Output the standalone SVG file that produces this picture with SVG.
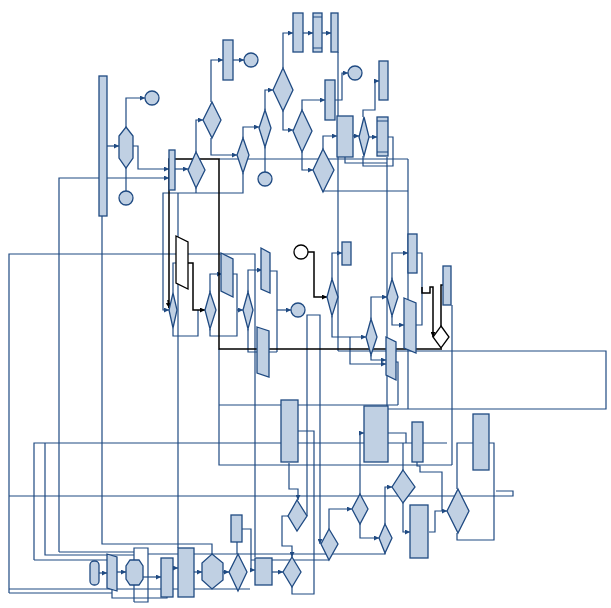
<svg xmlns="http://www.w3.org/2000/svg" width="611" height="608" viewBox="0 0 611 608">
<defs>
<style>
.n{fill:#C0D0E3;stroke:#1F4A82;stroke-width:1.3}
.w{fill:#fff;stroke:#000;stroke-width:1.3}
.c{fill:none;stroke:#1F4A82;stroke-width:1.2}
.k{fill:none;stroke:#000;stroke-width:1.5}
.b{fill:none;stroke:#1F4A82;stroke-width:1}
</style>
<marker id="a" markerWidth="5" markerHeight="5" refX="5" refY="2.5" orient="auto" markerUnits="userSpaceOnUse"><path d="M0,0 L5,2.5 L0,5 z" fill="#1F4A82"/></marker>
<marker id="ak" markerWidth="5" markerHeight="5" refX="5" refY="2.5" orient="auto" markerUnits="userSpaceOnUse"><path d="M0,0 L5,2.5 L0,5 z" fill="#000"/></marker>
</defs>
<rect width="611" height="608" fill="#fff"/>
<g id="connectors">
<!-- top left -->
<polyline class="c" points="107,146 119,146" marker-end="url(#a)"/>
<polyline class="c" points="126,127 126,98 145,98" marker-end="url(#a)"/>
<polyline class="c" points="133,146 138,146 138,169 169,169" marker-end="url(#a)"/>
<polyline class="c" points="126,168 126,191"/>
<polyline class="c" points="59,552 59,178 169,178" marker-end="url(#a)"/>
<polyline class="c" points="175,169 188,169" marker-end="url(#a)"/>
<polyline class="c" points="196,152 196,120 203,120" marker-end="url(#a)"/>
<polyline class="c" points="211,102 211,60 223,60" marker-end="url(#a)"/>
<polyline class="c" points="233,60 244,60" marker-end="url(#a)"/>
<polyline class="c" points="211,138 211,155 237,155" marker-end="url(#a)"/>
<polyline class="c" points="243,138 243,127 259,127" marker-end="url(#a)"/>
<polyline class="c" points="265,110 265,90 273,90" marker-end="url(#a)"/>
<polyline class="c" points="283,68 283,33 293,33" marker-end="url(#a)"/>
<polyline class="c" points="303,33 313,33" marker-end="url(#a)"/>
<polyline class="c" points="322,33 331,33" marker-end="url(#a)"/>
<polyline class="c" points="283,111 283,130 293,130" marker-end="url(#a)"/>
<polyline class="c" points="302,110 302,100 325,100" marker-end="url(#a)"/>
<polyline class="c" points="302,152 302,170 313,170" marker-end="url(#a)"/>
<polyline class="c" points="323,149 323,136 337,136" marker-end="url(#a)"/>
<polyline class="c" points="335,100 342,100 342,73 348,73" marker-end="url(#a)"/>
<polyline class="c" points="265,147 265,172"/>
<polyline class="c" points="363,117 363,110 375,110 375,81 379,81" marker-end="url(#a)"/>
<polyline class="c" points="353,136 359,136" marker-end="url(#a)"/>
<polyline class="c" points="369,137 377,137" marker-end="url(#a)"/>
<polyline class="c" points="345,157 345,163 387,163"/>
<polyline class="c" points="363,156 363,166 393,166 393,137 388,137"/>
<polyline class="c" points="323,192 323,191 408,191"/>
<polyline class="c" points="219,159 408,159"/>
<polyline class="c" points="338,52 338,351"/>
<polyline class="c" points="387,157 387,409"/>
<polyline class="c" points="408,159 408,409"/>
<polyline class="c" points="338,351 606,351 606,409 387,409"/>
<polyline class="c" points="243,173 243,193 163,193 163,310 169,310" marker-end="url(#a)"/>
<polyline class="c" points="196,188 196,193"/>
<polyline class="c" points="178,193 178,548"/>
<polyline class="c" points="102,216 102,544 212,544 212,554"/>
<!-- middle -->
<polyline class="c" points="9,593 9,254 255,254 255,557"/>
<polyline class="c" points="176,263 173,263 173,293"/>
<polyline class="c" points="173,328 173,336 198,336 198,310"/>
<polyline class="c" points="210,292 210,274 222,274" marker-end="url(#a)"/>
<polyline class="c" points="210,329 210,336 237,336 237,274 232,274"/>
<polyline class="c" points="237,310 243,310" marker-end="url(#a)"/>
<polyline class="c" points="248,292 248,270 262,270" marker-end="url(#a)"/>
<polyline class="c" points="248,329 248,352 277,352"/>
<polyline class="c" points="270,271 277,271 277,352"/>
<polyline class="c" points="277,310 291,310" marker-end="url(#a)"/>
<polyline class="c" points="307,516 307,315 320,315 320,544" marker-end="url(#a)"/>
<polyline class="c" points="332,279 332,253 342,253" marker-end="url(#a)"/>
<polyline class="c" points="332,316 332,337 366,337" marker-end="url(#a)"/>
<polyline class="c" points="350,337 350,364 386,364" marker-end="url(#a)"/>
<polyline class="c" points="371,319 371,297 387,297" marker-end="url(#a)"/>
<polyline class="c" points="392,279 392,253 408,253" marker-end="url(#a)"/>
<polyline class="c" points="392,316 392,325 404,325" marker-end="url(#a)"/>
<polyline class="c" points="371,355 371,360 386,360" marker-end="url(#a)"/>
<polyline class="c" points="417,253 422,253 422,325 416,325"/>
<polyline class="c" points="396,362 398,362 398,405"/>
<polyline class="c" points="452,305 452,465"/>
<polyline class="c" points="219,349 219,465 452,465"/>
<polyline class="c" points="219,405 398,405"/>
<polyline class="c" points="34,560 34,443 447,443"/>
<polyline class="c" points="34,560 107,560"/>
<polyline class="c" points="45,443 45,555 134,555"/>
<polyline class="c" points="59,552 134,552"/>
<polyline class="c" points="9,496 496,496"/>
<!-- bottom middle -->
<polyline class="c" points="289,463 289,489 298,489 298,500" marker-end="url(#a)"/>
<polyline class="c" points="298,431 314,431 314,594 292,594 292,587"/>
<polyline class="c" points="288,516 282,516 282,546 292,546 292,557" marker-end="url(#a)"/>
<polyline class="c" points="272,572 283,572" marker-end="url(#a)"/>
<polyline class="c" points="329,529 329,509 352,509" marker-end="url(#a)"/>
<polyline class="c" points="360,524 360,538 379,538" marker-end="url(#a)"/>
<polyline class="c" points="385,524 385,487 392,487" marker-end="url(#a)"/>
<polyline class="c" points="403,503 403,532 410,532" marker-end="url(#a)"/>
<polyline class="c" points="429,532 435,532 435,511 447,511" marker-end="url(#a)"/>
<polyline class="c" points="457,489 457,443 494,443 494,540 457,540 457,533"/>
<polyline class="c" points="496,491 513,491 513,496 496,496"/>
<polyline class="c" points="360,494 360,433 364,433" marker-end="url(#a)"/>
<polyline class="c" points="388,433 406,433 406,443"/>
<polyline class="c" points="403,470 403,443"/>
<polyline class="c" points="417,462 417,466 420,466 420,472 442,472 442,511"/>
<polyline class="c" points="385,553 385,554 148,554"/>
<polyline class="c" points="329,560 251,560"/>
<polyline class="c" points="242,529 251,529 251,570 255,570" marker-end="url(#a)"/>
<!-- bottom left row -->
<polyline class="c" points="99,573 107,573" marker-end="url(#a)"/>
<polyline class="c" points="117,572 126,572" marker-end="url(#a)"/>
<polyline class="c" points="143,577 161,577" marker-end="url(#a)"/>
<polyline class="c" points="173,568 178,568" marker-end="url(#a)"/>
<polyline class="c" points="194,572 202,572" marker-end="url(#a)"/>
<polyline class="c" points="223,572 229,572" marker-end="url(#a)"/>
<polyline class="c" points="237,542 237,554"/>
<polyline class="c" points="134,602 134,548 148,548 148,602 134,602"/>
<polyline class="c" points="112,589 112,598 167,598 167,597"/>
<polyline class="c" points="9,589 250,589"/>
<polyline class="c" points="9,593 112,593"/>
<!-- black -->
<polyline class="k" points="169,308 169,159 219,159 219,349 442,349"/>
<polyline class="k" points="168,300 169,308" marker-end="url(#ak)"/>
<polyline class="k" points="188,263 193,263 193,310 205,310" marker-end="url(#ak)"/>
<polyline class="k" points="308,252 314,252 314,297 327,297" marker-end="url(#ak)"/>
<polyline class="k" points="422,287 422,293 430,293 430,287 433,287 433,337" marker-end="url(#ak)"/>
<polyline class="k" points="443,285 441,285 441,326"/>
</g>
<g id="n1"><rect class="n" x="99" y="76" width="8" height="140"/></g>
<g id="n2"><polygon class="n" points="126,127 133,136 133,158 126,168 119,158 119,136"/></g>
<g id="n3"><circle class="n" cx="152" cy="98" r="7"/></g>
<g id="n4"><circle class="n" cx="126" cy="198" r="7"/></g>
<g id="n5"><rect class="n" x="169" y="150" width="6" height="40"/></g>
<g id="n6"><polygon class="n" points="196,152 205,170 196,188 188,170"/></g>
<g id="n7"><polygon class="n" points="212,102 221,120 212,138 203,120"/></g>
<g id="n8"><rect class="n" x="223" y="40" width="10" height="40"/></g>
<g id="n9"><circle class="n" cx="251" cy="60" r="7"/></g>
<g id="n10"><polygon class="n" points="243,138 249,155 243,173 237,155"/></g>
<g id="n11"><polygon class="n" points="265,110 271,128 265,147 259,128"/></g>
<g id="n12"><circle class="n" cx="265" cy="179" r="7"/></g>
<g id="n13"><polygon class="n" points="283,68 293,90 283,111 273,90"/></g>
<g id="n14"><rect class="n" x="293" y="13" width="10" height="39"/></g>
<g id="n15"><rect class="n" x="313" y="13" width="9" height="39"/><line class="b" x1="313" y1="17" x2="322" y2="17"/><line class="b" x1="313" y1="48" x2="322" y2="48"/></g>
<g id="n16"><rect class="n" x="331" y="13" width="7" height="39"/></g>
<g id="n17"><polygon class="n" points="302,110 312,131 302,152 293,131"/></g>
<g id="n18"><rect class="n" x="325" y="80" width="10" height="40"/></g>
<g id="n19"><circle class="n" cx="355" cy="73" r="7"/></g>
<g id="n20"><polygon class="n" points="323,149 334,170 323,192 313,170"/></g>
<g id="n21"><rect class="n" x="337" y="116" width="16" height="41"/></g>
<g id="n22"><polygon class="n" points="364,117 369,137 364,156 359,137"/></g>
<g id="n23"><rect class="n" x="379" y="61" width="9" height="39"/></g>
<g id="n24"><rect class="n" x="377" y="117" width="11" height="39"/><line class="b" x1="377" y1="121" x2="388" y2="121"/><line class="b" x1="377" y1="152" x2="388" y2="152"/></g>
<g id="n25"><polygon class="w" points="176,236 188,242 188,289 176,283"/></g>
<g id="n26"><polygon class="n" points="173,293 177,310 173,328 169,310"/></g>
<g id="n27"><polygon class="n" points="210,292 216,310 210,329 205,310"/></g>
<g id="n28"><polygon class="n" points="221,253 233,259 233,297 221,291"/></g>
<g id="n29"><polygon class="n" points="248,292 253,310 248,329 243,310"/></g>
<g id="n30"><polygon class="n" points="261,248 270,253 270,293 261,289"/></g>
<g id="n31"><polygon class="n" points="257,327 269,331 269,377 257,373"/></g>
<g id="n32"><circle class="n" cx="298" cy="310" r="7"/></g>
<g id="n33"><circle class="w" cx="301" cy="252" r="7"/></g>
<g id="n34"><polygon class="n" points="332,279 338,297 332,316 327,297"/></g>
<g id="n35"><rect class="n" x="342" y="242" width="9" height="23"/></g>
<g id="n36"><polygon class="n" points="371,319 377,337 371,355 366,337"/></g>
<g id="n37"><polygon class="n" points="392,279 398,297 392,316 387,297"/></g>
<g id="n38"><rect class="n" x="408" y="234" width="9" height="39"/></g>
<g id="n39"><polygon class="n" points="404,298 416,303 416,353 404,348"/></g>
<g id="n40"><polygon class="n" points="386,337 396,342 396,380 386,375"/></g>
<g id="n41"><rect class="n" x="443" y="266" width="8" height="39"/></g>
<g id="n42"><polygon class="w" points="441,326 449,337 441,348 433,337"/></g>
<g id="n43"><rect class="n" x="281" y="400" width="17" height="62"/></g>
<g id="n44"><rect class="n" x="364" y="406" width="24" height="56"/></g>
<g id="n45"><rect class="n" x="412" y="422" width="11" height="40"/></g>
<g id="n46"><rect class="n" x="473" y="414" width="16" height="56"/></g>
<g id="n47"><polygon class="n" points="403,470 415,487 403,503 392,487"/></g>
<g id="n48"><rect class="n" x="410" y="505" width="18" height="53"/></g>
<g id="n49"><polygon class="n" points="458,489 469,511 458,533 447,511"/></g>
<g id="n50"><polygon class="n" points="360,494 368,509 360,524 352,509"/></g>
<g id="n51"><polygon class="n" points="297,500 307,516 297,531 288,516"/></g>
<g id="n52"><polygon class="n" points="385,524 392,538 385,553 379,538"/></g>
<g id="n53"><polygon class="n" points="329,529 338,544 329,560 321,544"/></g>
<g id="n54"><polygon class="n" points="292,557 301,572 292,587 283,572"/></g>
<g id="n55"><rect class="n" x="255" y="558" width="17" height="27"/></g>
<g id="n56"><polygon class="n" points="238,554 247,572 238,591 229,572"/></g>
<g id="n57"><rect class="n" x="231" y="515" width="11" height="27"/></g>
<g id="n58"><polygon class="n" points="212,554 223,563 223,580 212,589 202,580 202,563"/></g>
<g id="n59"><rect class="n" x="178" y="548" width="16" height="49"/></g>
<g id="n60"><rect class="n" x="161" y="558" width="12" height="39"/></g>
<g id="n61"><polygon class="n" points="130,560 139,560 143,566 143,579 139,585 130,585 126,579 126,566"/></g>
<g id="n62"><polygon class="n" points="107,554 117,557 117,591 107,588"/></g>
<g id="n63"><rect class="n" x="90" y="561" width="9" height="24" rx="4"/></g>
</svg>
